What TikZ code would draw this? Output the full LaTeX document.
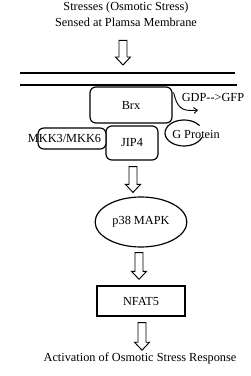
\documentclass[tikz,border=0pt]{standalone}
\usepackage{fontspec}
\setmainfont{Liberation Serif}
\usetikzlibrary{calc, shapes.geometric, arrows.meta}

% hollow block arrow, drawn straight down from #1 to #2
\newcommand{\hollowarrow}[2]{%
  \draw[blockarrow] let \p1=(#1), \p2=(#2) in
    (\x1-0.12cm,\y1) -- (\x1-0.12cm,\y2+0.24cm) -- (\x1-0.225cm,\y2+0.24cm)
    -- (\x1,\y2) -- (\x1+0.225cm,\y2+0.24cm) -- (\x1+0.12cm,\y2+0.24cm)
    -- (\x1+0.12cm,\y1) -- cycle;}

\begin{document}
\begin{tikzpicture}[
        x=0.03cm, y=-0.03cm,
        every node/.style={font=\fontsize{10.5}{13.6}\selectfont},
        softbox/.style={rectangle, draw, line width=1pt, rounded corners=5pt, fill=white},
        brxbox/.style={softbox, minimum width=2.46cm, minimum height=1.08cm},
        jipbox/.style={softbox, minimum width=1.56cm, minimum height=1.02cm},
        mkkbox/.style={softbox, minimum width=2.04cm, minimum height=0.63cm},
        kinase/.style={ellipse, draw, line width=1pt, minimum width=2.61cm, minimum height=1.5cm},
        tfbox/.style={rectangle, draw, line width=1.2pt, minimum width=2.64cm, minimum height=0.9cm},
        blockarrow/.style={line width=0.8pt, fill=white, line join=miter},
        membrane/.style={line width=1.3pt},
        gdparrow/.style={line width=0.8pt, -{Straight Barb[length=3pt, width=5pt]}}
    ]
    \useasboundingbox (0,0) rectangle (250,376);
%
    % Nodes
    \node[align=center] (stress) at (126,14) {Stresses (Osmotic Stress)\\Sensed at Plamsa Membrane};
    \coordinate (memtopL) at (20,73);
    \coordinate (memtopR) at (235,73);
    \coordinate (membotL) at (20,85);
    \coordinate (membotR) at (237,85);
    \node[brxbox] (brx) at (131,105) {Brx};
    \node[jipbox] (jip) at (132,143) {JIP4};
    \node[mkkbox, label={[xshift=-0.225cm]center:MKK3/MKK6}] (mkk) at (72,138.5) {};
    \node (gprot) at (196,134) {G Protein};
    \node (gdp) at (213,97) {GDP-{}-{}>GFP};
    \coordinate (gdpend) at (198,110);
    \node[kinase] (p38) at (141,222) {p38 MAPK};
    \node[tfbox] (nfat) at (141,301) {NFAT5};
    \node (response) at (140,358) {Activation of Osmotic Stress Response};
%
    % Membrane
    \draw[membrane] (memtopL) -- (memtopR);
    \draw[membrane] (membotL) -- (membotR);
%
    % G protein outline and exchange
    \draw[line width=1pt] ($(gprot.center)+(-12,-1)+(20:19 and 13)$) arc[start angle=20, end angle=325, x radius=19, y radius=13];
    \draw[gdparrow] ($(brx.north east)+(1,6)$) .. controls (177,107) and (181,112) .. (gdpend);
%
    % Arrows
    \hollowarrow{$(stress.south)+(-3,10)$}{$(memtopL -| stress.south)+(-3,-8)$}
    \hollowarrow{$(jip.south)+(1,6)$}{$(p38.north)+(0,-4)$}
    \hollowarrow{$(p38.south)+(-2,5)$}{$(nfat.north)+(0,-6)$}
    \hollowarrow{$(nfat.south)+(1,6)$}{$(response.north)+(0,2)$}
%
\end{tikzpicture}
\end{document}
